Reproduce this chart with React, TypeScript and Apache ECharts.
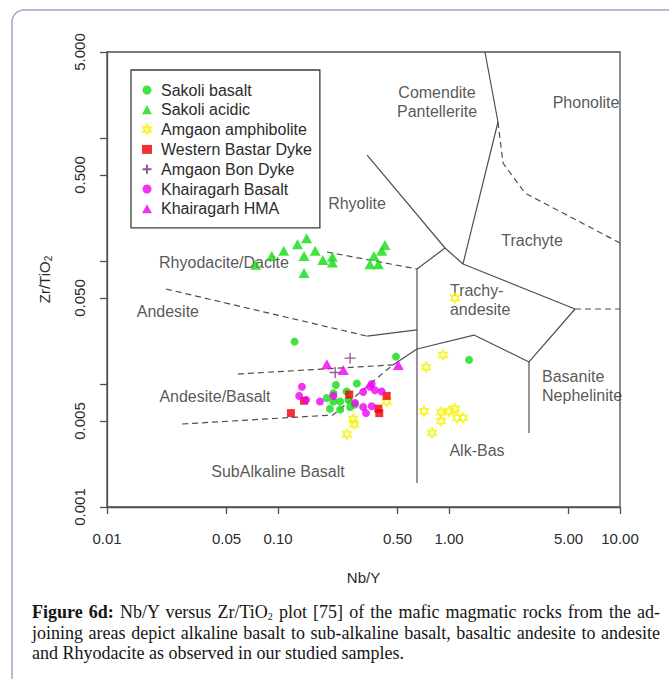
import React, { useEffect, useLayoutEffect, useRef } from "react";
import * as echarts from "echarts";

// ---- sample compositions: Nb/Y (x) and Zr/TiO2 (y) ----
const sakoliBasaltNbY = [0.218, 0.289, 0.211, 0.252, 0.193, 0.211, 0.231, 0.258, 0.201, 0.231, 0.264, 0.282, 0.125, 0.49, 1.31];
const sakoliBasaltZrTi = [0.0098, 0.0101, 0.0084, 0.0087, 0.0077, 0.0072, 0.0072, 0.0074, 0.0063, 0.0062, 0.0065, 0.0068, 0.0221, 0.0167, 0.0157];

const sakoliAcidicNbY = [0.074, 0.092, 0.108, 0.13, 0.147, 0.142, 0.165, 0.183, 0.208, 0.208, 0.142, 0.364, 0.404, 0.422, 0.345, 0.386];
const sakoliAcidicZrTi = [0.093, 0.11, 0.121, 0.137, 0.153, 0.11, 0.121, 0.102, 0.108, 0.097, 0.08, 0.11, 0.121, 0.135, 0.094, 0.094];

const amgaonAmphNbY = [1.084, 0.922, 0.734, 0.714, 0.898, 1.0, 1.084, 0.898, 1.114, 1.207, 0.796, 0.432, 0.275, 0.279, 0.253];
const amgaonAmphZrTi = [0.05, 0.0172, 0.0137, 0.006, 0.0059, 0.006, 0.0063, 0.005, 0.0053, 0.0053, 0.004, 0.0072, 0.0052, 0.0047, 0.0039];

const westernBastarNbY = [0.119, 0.142, 0.261, 0.432, 0.386, 0.391];
const westernBastarZrTi = [0.0058, 0.0073, 0.0082, 0.008, 0.0063, 0.0058];

const amgaonBonNbY = [0.264, 0.216];
const amgaonBonZrTi = [0.0162, 0.0124];

const khairagarhBasaltNbY = [0.138, 0.133, 0.146, 0.176, 0.211, 0.282, 0.315, 0.345, 0.353, 0.369, 0.404, 0.315, 0.353, 0.327];
const khairagarhBasaltZrTi = [0.0095, 0.008, 0.0074, 0.0072, 0.008, 0.007, 0.0086, 0.0095, 0.01, 0.0089, 0.0087, 0.0065, 0.0066, 0.0058];

const khairagarhHmaNbY = [0.193, 0.241, 0.505];
const khairagarhHmaZrTi = [0.0145, 0.013, 0.0143];

// ---- axis ticks ----
const xTicks = [0.01, 0.05, 0.1, 0.5, 1, 5, 10];
const yTicks = [0.001, 0.005, 0.01, 0.05, 0.1, 0.5, 1, 5];
const yTickLabels = [0.001, 0.005, 0.05, 0.5, 5];

// ---- field boundaries (Nb/Y, Zr/TiO2) ----
const solidBoundaries: number[][][] = [
  [[0.332, 0.727], [0.948, 0.1275], [1.207, 0.0945]],
  [[1.623, 5], [1.934, 1.349], [1.207, 0.0945]],
  [[1.207, 0.0945], [5.46, 0.0407], [2.937, 0.0151], [1.4, 0.025], [0.65, 0.01925], [0.47, 0.0143]],
  [[2.937, 0.0151], [2.937, 0.004]],
  [[0.948, 0.1275], [0.65, 0.0861], [0.65, 0.00157]],
  [[0.332, 0.0245], [0.65, 0.0275]],
];
const dashedBoundaries: number[][][] = [
  [[1.934, 1.349], [2.069, 0.626], [2.78, 0.357], [10, 0.14]],
  [[5.46, 0.0407], [10, 0.0407]],
  [[0.1934, 0.1183], [0.65, 0.0861]],
  [[0.0221, 0.0592], [0.332, 0.0245]],
  [[0.0583, 0.01205], [0.47, 0.0143]],
  [[0.0275, 0.00473], [0.2098, 0.0056], [0.47, 0.0143]],
];

// ---- field names ----
const fieldNames = ["Comendite\nPantellerite", "Phonolite", "Rhyolite", "Trachyte", "Trachy-\nandesite", "Rhyodacite/Dacite", "Andesite", "Andesite/Basalt", "SubAlkaline Basalt", "Alk-Bas", "Basanite\nNephelinite"];
const fieldNbY = [0.851, 6.33, 0.29, 3.06, 1.013, 0.0483, 0.0227, 0.0428, 0.1, 1.458, 3.5];
const fieldZrTi = [1.96, 1.925, 0.296, 0.148, 0.0482, 0.098, 0.0392, 0.00784, 0.00196, 0.0029, 0.00963];
const fieldAlign = ["center", "center", "center", "center", "left", "center", "center", "center", "center", "center", "left"];

const L = (v: number) => Math.log10(v);
const pts = (xs: number[], ys: number[]) => xs.map((x, i) => [L(x), L(ys[i])]);
const poly = (p: number[][]) => p.map(([x, y]) => [L(x), L(y)]);

const SANS = '"Liberation Sans", Arial, sans-serif';
const INK = "#2b2b2b";
const LINE = "#4f4f4f";
const CAPTION_WIDTH = 628;

const hexagram = "path://M5,0L9.33,7.5L0.67,7.5Z M5,10L9.33,2.5L0.67,2.5Z";
const plus = "path://M0,5L10,5M5,0L5,10";

// A caption line stretched (or squeezed) to the full caption width via word spacing
function JustifiedLine({ children }: { children: React.ReactNode }) {
  const ref = useRef<HTMLSpanElement>(null);
  useLayoutEffect(() => {
    const el = ref.current;
    if (!el) return;
    el.style.wordSpacing = "0px";
    const w = el.getBoundingClientRect().width;
    const spaces = (el.textContent || "").split(" ").length - 1;
    if (spaces > 0) el.style.wordSpacing = `${(CAPTION_WIDTH - w) / spaces}px`;
  }, []);
  return (
    <div style={{ whiteSpace: "nowrap" }}>
      <span ref={ref} style={{ display: "inline-block", whiteSpace: "nowrap" }}>
        {children}
      </span>
    </div>
  );
}

export default function App() {
  const ref = useRef<HTMLDivElement>(null);

  useEffect(() => {
    if (!ref.current) return;
    const chart = echarts.init(ref.current, undefined, { renderer: "svg" });

    const boundarySeries: any[] = [
      ...solidBoundaries.map((b) => ({ data: poly(b), type: "solid" })),
      ...dashedBoundaries.map((b) => ({ data: poly(b), type: [6, 4] })),
    ].map((b) => ({
      type: "line",
      data: b.data,
      symbol: "none",
      silent: true,
      z: 1,
      lineStyle: { color: LINE, width: 1.2, type: b.type },
    }));

    const sampleSeries = [
      { name: "Sakoli basalt", xs: sakoliBasaltNbY, ys: sakoliBasaltZrTi, symbol: "circle", size: 8, style: { color: "#12dc12" } },
      { name: "Sakoli acidic", xs: sakoliAcidicNbY, ys: sakoliAcidicZrTi, symbol: "triangle", size: [11, 10], style: { color: "#12dc12" } },
      { name: "Amgaon amphibolite", xs: amgaonAmphNbY, ys: amgaonAmphZrTi, symbol: hexagram, size: 10, style: { color: "none", borderColor: "#f4f400", borderWidth: 1.4 } },
      { name: "Western Bastar Dyke", xs: westernBastarNbY, ys: westernBastarZrTi, symbol: "rect", size: 8, style: { color: "#f00000" } },
      { name: "Amgaon Bon Dyke", xs: amgaonBonNbY, ys: amgaonBonZrTi, symbol: plus, size: 11, style: { color: "none", borderColor: "#7a2a86", borderWidth: 1.3 } },
      { name: "Khairagarh Basalt", xs: khairagarhBasaltNbY, ys: khairagarhBasaltZrTi, symbol: "circle", size: 8, style: { color: "#f000f0" } },
      { name: "Khairagarh HMA", xs: khairagarhHmaNbY, ys: khairagarhHmaZrTi, symbol: "triangle", size: [11, 10], style: { color: "#f000f0" } },
    ];

    chart.setOption({
      animation: false,
      backgroundColor: "#ffffff",
      textStyle: { fontFamily: SANS },
      grid: {
        left: 107,
        top: 52,
        width: 513,
        height: 455,
        show: true,
        borderColor: LINE,
        borderWidth: 1.3,
        backgroundColor: "transparent",
      },
      xAxis: {
        type: "value",
        min: L(0.01),
        max: L(10),
        name: "Nb/Y",
        nameLocation: "middle",
        nameGap: 63,
        nameTextStyle: { fontSize: 15, color: INK, fontFamily: SANS },
        splitLine: { show: false },
        axisLine: { show: true, onZero: false, lineStyle: { color: LINE, width: 1.3 } },
        axisTick: { show: true, length: 7, customValues: xTicks.map(L), lineStyle: { color: LINE, width: 1.3 } },
        axisLabel: {
          customValues: xTicks.map(L),
          margin: 24,
          fontSize: 15,
          color: INK,
          fontFamily: SANS,
          formatter: (v: number) => Math.pow(10, v).toFixed(2),
        },
      },
      yAxis: {
        type: "value",
        min: L(0.001),
        max: L(5),
        name: "{a|Zr/TiO}{s|2}",
        nameLocation: "middle",
        nameGap: 54,
        nameRotate: 90,
        nameTextStyle: {
          color: INK,
          fontFamily: SANS,
          rich: {
            a: { fontSize: 15, lineHeight: 18, color: INK, fontFamily: SANS },
            s: { fontSize: 10, lineHeight: 10, color: INK, fontFamily: SANS, verticalAlign: "bottom" },
          },
        },
        splitLine: { show: false },
        axisLine: { show: true, onZero: false, lineStyle: { color: LINE, width: 1.3 } },
        axisTick: { show: true, length: 7, customValues: yTicks.map(L), lineStyle: { color: LINE, width: 1.3 } },
        axisLabel: {
          customValues: yTickLabels.map(L),
          rotate: 90,
          margin: 20,
          fontSize: 15,
          color: INK,
          fontFamily: SANS,
          formatter: (v: number) => Math.pow(10, v).toFixed(3),
        },
      },
      legend: {
        orient: "vertical",
        left: 131,
        top: 70,
        padding: [12, 8, 11, 9],
        itemGap: 3.8,
        itemWidth: 10,
        itemHeight: 9,
        borderColor: "#3c3c3c",
        borderWidth: 1.3,
        borderRadius: 0,
        backgroundColor: "#ffffff",
        selectedMode: false,
        textStyle: { fontSize: 16, color: INK, fontFamily: SANS, padding: [0, 0, 0, 4] },
        data: sampleSeries.map((s) => s.name),
      },
      graphic: [
        {
          type: "rect",
          silent: true,
          shape: { x: 12, y: 10, width: 760, height: 760, r: 12 },
          style: { fill: "none", stroke: "#a3a3cc", lineWidth: 1.5 },
        },
      ],
      series: [
        ...boundarySeries,
        {
          type: "scatter",
          name: "fields",
          silent: true,
          symbolSize: 0,
          z: 2,
          data: fieldNames.map((n, i) => ({
            value: [L(fieldNbY[i]), L(fieldZrTi[i])],
            name: n,
            label: { align: fieldAlign[i] },
          })),
          label: {
            show: true,
            position: "inside",
            formatter: (p: any) => p.name,
            fontSize: 16,
            lineHeight: 18.5,
            color: INK,
            fontFamily: SANS,
          },
        },
        ...sampleSeries.map((s) => ({
          type: "scatter",
          name: s.name,
          data: pts(s.xs, s.ys),
          symbol: s.symbol,
          symbolSize: s.size,
          symbolKeepAspect: true,
          itemStyle: s.style,
          z: 3,
        })),
      ],
    });

    return () => chart.dispose();
  }, []);

  return (
    <div style={{ position: "absolute", left: 0, top: 0, width: 669, height: 679, overflow: "hidden", background: "#fff" }}>
      <div ref={ref} style={{ position: "absolute", left: 0, top: 0, width: 669, height: 679 }} />
      <div
        style={{
          position: "absolute",
          left: 32,
          top: 602,
          width: CAPTION_WIDTH,
          fontFamily: '"Liberation Serif", "Times New Roman", serif',
          fontSize: 18,
          lineHeight: "20.5px",
          color: "#151515",
        }}
      >
        <JustifiedLine>
          <b>Figure 6d:</b> Nb/Y versus Zr/TiO<span style={{ fontSize: 10, lineHeight: "10px", verticalAlign: "-1.5px" }}>2</span> plot [75] of the mafic magmatic rocks from the ad-
        </JustifiedLine>
        <JustifiedLine>joining areas depict alkaline basalt to sub-alkaline basalt, basaltic andesite to andesite</JustifiedLine>
        <div>and Rhyodacite as observed in our studied samples.</div>
      </div>
    </div>
  );
}
